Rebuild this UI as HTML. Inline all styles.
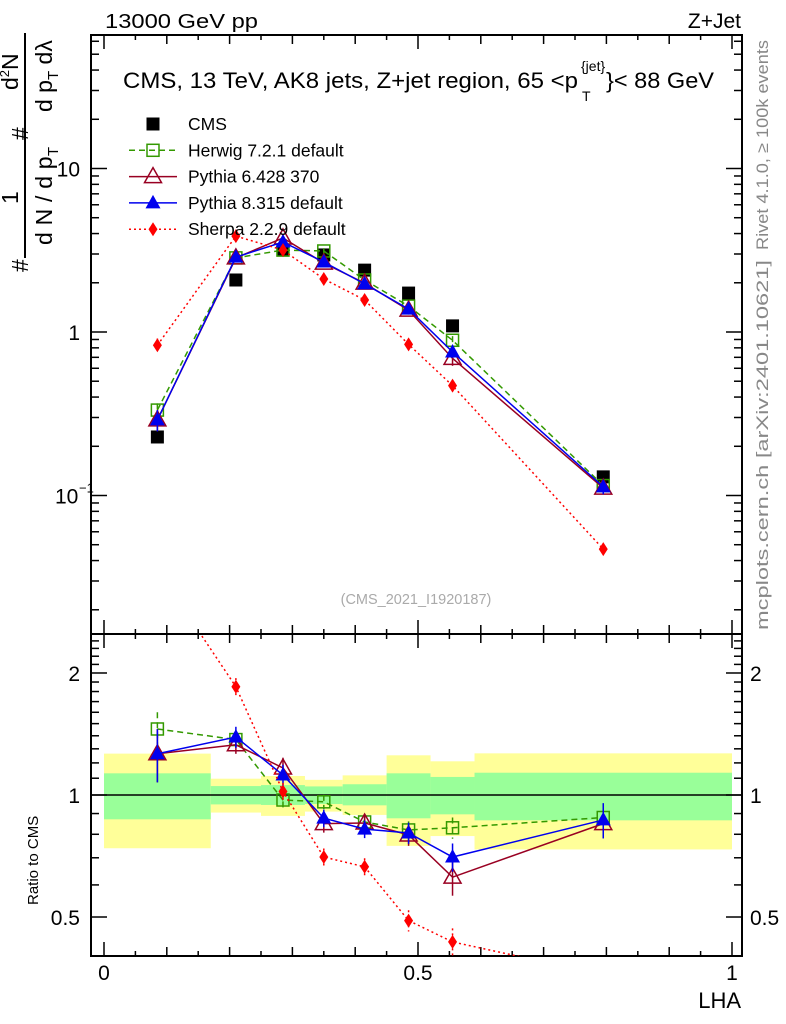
<!DOCTYPE html>
<html><head><meta charset="utf-8"><style>
body{margin:0;background:#fff}
svg{display:block;font-family:"Liberation Sans",sans-serif}
</style></head><body>
<svg id="c" width="786" height="1024" viewBox="0 0 786 1024" xmlns="http://www.w3.org/2000/svg">
<g id="bands"></g>
<g id="frames"></g>
<g id="series"></g>
<text x="105" y="28" font-size="20" textLength="153" lengthAdjust="spacingAndGlyphs">13000 GeV pp</text>
<text x="741" y="28" font-size="21" text-anchor="end">Z+Jet</text>
<g>
<text x="123" y="88" font-size="22" textLength="455" lengthAdjust="spacingAndGlyphs">CMS, 13 TeV, AK8 jets, Z+jet region, 65 &lt;p</text>
<text x="581" y="71" font-size="14">{jet}</text>
<text x="582" y="101" font-size="14">T</text>
<text x="606" y="88" font-size="22" textLength="108" lengthAdjust="spacingAndGlyphs">}&lt; 88 GeV</text>
</g>
<text x="416" y="604" font-size="14.5" fill="#aaa" text-anchor="middle">(CMS_2021_I1920187)</text>
<text transform="translate(768,250) rotate(-90)" font-size="16.5" fill="#888" textLength="210" lengthAdjust="spacingAndGlyphs">Rivet 4.1.0, ≥ 100k events</text>
<text transform="translate(768,630) rotate(-90)" font-size="16.5" fill="#888" textLength="370" lengthAdjust="spacingAndGlyphs">mcplots.cern.ch [arXiv:2401.10621]</text>
<g font-size="23">
<text transform="translate(28,272) rotate(-90)">#</text>
<text transform="translate(18,204) rotate(-90)">1</text>
<line x1="25" y1="33" x2="25" y2="258" stroke="#000" stroke-width="2"/>
<text transform="translate(52,245) rotate(-90)" textLength="98">d N / d p<tspan font-size="15" dy="6">T</tspan></text>
<text transform="translate(28,140) rotate(-90)">#</text>
<text transform="translate(18,90) rotate(-90)">d<tspan font-size="13" dy="-9">2</tspan><tspan dy="9">N</tspan></text>
<text transform="translate(52,112) rotate(-90)">d p<tspan font-size="15" dy="6">T</tspan><tspan dy="-6"> dλ</tspan></text>
</g>
<text transform="translate(38,905) rotate(-90)" font-size="15">Ratio to CMS</text>
<text x="741" y="1008" font-size="22" text-anchor="end">LHA</text>
<g id="legend"></g>
</svg>
<script>
const xCenters=[0.085,0.21,0.285,0.35,0.415,0.485,0.555,0.795];
const binEdges=[0,0.17,0.25,0.32,0.38,0.45,0.52,0.59,1.0];
const cmsVals=[0.228,2.08,3.17,2.96,2.39,1.73,1.09,0.13];
const herwigVals=[0.333,2.84,3.17,3.13,2.08,1.44,0.89,0.115];
const py6Vals=[0.29,2.84,3.76,2.64,1.99,1.36,0.69,0.111];
const py8Vals=[0.29,2.87,3.55,2.68,1.97,1.38,0.755,0.113];
const sherpaVals=[0.83,3.86,3.17,2.11,1.57,0.84,0.47,0.047];
const herwigRatio=[1.455,1.37,0.972,0.962,0.858,0.82,0.83,0.88];
const py6Ratio=[1.264,1.33,1.166,0.85,0.853,0.797,0.627,0.85];
const py8Ratio=[1.264,1.39,1.12,0.877,0.824,0.806,0.703,0.868];
const sherpaRatio=[3.6,1.85,1.02,0.703,0.665,0.49,0.434,0.36];
const herwigErr=[0.1,0.05,0.05,0.04,0.04,0.05,0.06,0.07];
const py6Err=[0.15,0.05,0.06,0.05,0.05,0.06,0.1,0.07];
const py8Err=[0.15,0.06,0.06,0.05,0.05,0.06,0.08,0.1];
const sherpaErr=[0.1,0.05,0.05,0.05,0.05,0.06,0.08,0.08];
const yellowHi=[1.265,1.097,1.114,1.09,1.118,1.253,1.211,1.267];
const yellowLo=[0.739,0.905,0.888,0.91,0.893,0.749,0.792,0.734];
const greenHi=[1.131,1.052,1.058,1.05,1.063,1.131,1.108,1.135];
const greenLo=[0.871,0.948,0.945,0.95,0.943,0.876,0.896,0.866];
const mainTickLabels=["10","1"];
const ratioTickLabels=["2","1","0.5"];
const xTickLabels=["0","0.5","1"];

const NS="http://www.w3.org/2000/svg";
const L=91,R=742,T1=35,B1=634,B2=956;
const X=v=>104+v*628;
const Y=v=>332-Math.log10(v)*163.5;
const YR=v=>795-Math.log10(v)*405.3;
function mk(p,tag,a){const e=document.createElementNS(NS,tag);for(const k in a)e.setAttribute(k,a[k]);p.appendChild(e);return e;}
const svg=document.getElementById('c');
const defs=mk(svg,'defs',{});
const cp1=mk(defs,'clipPath',{id:'cm'});mk(cp1,'rect',{x:L,y:T1,width:R-L,height:B1-T1});
const cp2=mk(defs,'clipPath',{id:'cr'});mk(cp2,'rect',{x:L,y:B1,width:R-L,height:B2-B1});

const bands=document.getElementById('bands');
for(let i=0;i<8;i++){
 const x0=X(binEdges[i]),x1=X(binEdges[i+1]);
 const y=mk(bands,'rect',{x:x0,y:YR(yellowHi[i]),width:x1-x0,height:YR(yellowLo[i])-YR(yellowHi[i]),fill:'#ffff99'});
 
 
 const g=mk(bands,'rect',{x:x0,y:YR(greenHi[i]),width:x1-x0,height:YR(greenLo[i])-YR(greenHi[i]),fill:'#99ff99'});
 
 
}
const fr=document.getElementById('frames');
mk(fr,'line',{x1:L,y1:795,x2:R,y2:795,stroke:'#000','stroke-width':1.5});
mk(fr,'rect',{x:L,y:T1,width:R-L,height:B1-T1,fill:'none',stroke:'#000','stroke-width':2});
mk(fr,'rect',{x:L,y:B1,width:R-L,height:B2-B1,fill:'none',stroke:'#000','stroke-width':2});
for(let k=0;k<=20;k++){const v=k*0.05,x=X(v);const len=k%10==0?14:(k%2==0?9:5);
 [[T1,1],[B1,-1],[B1,1],[B2,-1]].forEach(([y,d])=>mk(fr,'line',{x1:x,y1:y,x2:x,y2:y+d*len,stroke:'#000','stroke-width':1.5}));}
for(let e=-2;e<=1;e++)for(let m=1;m<10;m++){const v=m*Math.pow(10,e),y=Y(v);if(y<T1||y>B1)continue;const len=m==1?16:8;
 mk(fr,'line',{x1:L,y1:y,x2:L+len,y2:y,stroke:'#000','stroke-width':1.5});mk(fr,'line',{x1:R,y1:y,x2:R-len,y2:y,stroke:'#000','stroke-width':1.5});}
for(let k=4;k<=25;k++){const v=k/10,y=YR(v);if(y<B1||y>B2)continue;const len=(k==5||k==10||k==20)?16:8;
 mk(fr,'line',{x1:L,y1:y,x2:L+len,y2:y,stroke:'#000','stroke-width':1.5});mk(fr,'line',{x1:R,y1:y,x2:R-len,y2:y,stroke:'#000','stroke-width':1.5});}
[10,1].forEach((v,i)=>{const t=mk(fr,'text',{x:80,y:Y(v)+8,'font-size':21,'text-anchor':'end'});t.textContent=mainTickLabels[i];});
{const t=mk(fr,'text',{x:55,y:Y(0.1)+8,'font-size':21});t.textContent='10';const s=mk(fr,'text',{x:79,y:Y(0.1)-3,'font-size':13});s.textContent='−1';}
[2,1,0.5].forEach((v,i)=>{const t=mk(fr,'text',{x:80,y:YR(v)+8,'font-size':21,'text-anchor':'end'});t.textContent=ratioTickLabels[i];
 const t2=mk(fr,'text',{x:750,y:YR(v)+8,'font-size':21});t2.textContent=ratioTickLabels[i];});
[0,0.5,1].forEach((v,i)=>{const t=mk(fr,'text',{x:X(v),y:980,'font-size':21,'text-anchor':'middle'});t.textContent=xTickLabels[i];});

function marker(p,type,x,y,col){
 if(type=='sq')return mk(p,'rect',{x:x-6.5,y:y-6.5,width:13,height:13,fill:'#000'});
 if(type=='osq')return mk(p,'rect',{x:x-6,y:y-6,width:12,height:12,fill:'none',stroke:col,'stroke-width':1.5});
 if(type=='otri')return mk(p,'path',{d:`M${x},${y-9}L${x+8.5},${y+6}L${x-8.5},${y+6}Z`,fill:'none',stroke:col,'stroke-width':1.5});
 if(type=='tri')return mk(p,'path',{d:`M${x},${y-8}L${x+7.5},${y+5.5}L${x-7.5},${y+5.5}Z`,fill:col});
 if(type=='dia')return mk(p,'path',{d:`M${x},${y-7}L${x+4.5},${y}L${x},${y+7}L${x-4.5},${y}Z`,fill:col});
}
const ser=document.getElementById('series');
const defsS=[
 {name:'herwig',main:herwigVals,ratio:herwigRatio,err:herwigErr,col:'#339900',dash:'6,4',m:'osq'},
 {name:'pythia6',main:py6Vals,ratio:py6Ratio,err:py6Err,col:'#990022',dash:'',m:'otri'},
 {name:'pythia8',main:py8Vals,ratio:py8Ratio,err:py8Err,col:'#0000ee',dash:'',m:'tri'},
 {name:'sherpa',main:sherpaVals,ratio:sherpaRatio,err:sherpaErr,col:'#ff0000',dash:'2,3',m:'dia'}];
const gm=mk(ser,'g',{'clip-path':'url(#cm)'});
const gr=mk(ser,'g',{'clip-path':'url(#cr)'});
xCenters.forEach((x,i)=>{const s=marker(gm,'sq',X(x),Y(cmsVals[i]));
 
 });
defsS.forEach(S=>{
 [[gm,S.main,Y],[gr,S.ratio,YR]].forEach(([g,vals,fy],pi)=>{
  const pts=xCenters.map((x,i)=>X(x)+','+fy(vals[i])).join(' ');
  const pl=mk(g,'polyline',{points:pts,fill:'none',stroke:S.col,'stroke-width':1.5,'stroke-dasharray':S.dash});
  
  
  xCenters.forEach((x,i)=>{const v=vals[i],e=S.err[i]*v;
   mk(g,'line',{x1:X(x),x2:X(x),y1:fy(v+e),y2:fy(v-e),stroke:S.col,'stroke-width':1.5,'stroke-dasharray':S.dash});
   const m=marker(g,S.m,X(x),fy(v),S.col);
   
   });
 });
});
const lg=document.getElementById('legend');
const legNames=['CMS','Herwig 7.2.1 default','Pythia 6.428 370','Pythia 8.315 default','Sherpa 2.2.9 default'];
const legS=[{m:'sq',col:'#000',dash:null}].concat(defsS);
legNames.forEach((n,i)=>{const y=124+i*26.3;
 const g=mk(lg,'g',{});
 
 
 const S=legS[i];
 if(S.dash!==null)mk(g,'line',{x1:129,x2:177,y1:y,y2:y,stroke:S.col,'stroke-width':1.5,'stroke-dasharray':S.dash});
 marker(g,S.m,153,y,S.col);
 const t=mk(g,'text',{x:188,y:y+6,'font-size':17.5});t.textContent=n;});
</script>
</body></html>
